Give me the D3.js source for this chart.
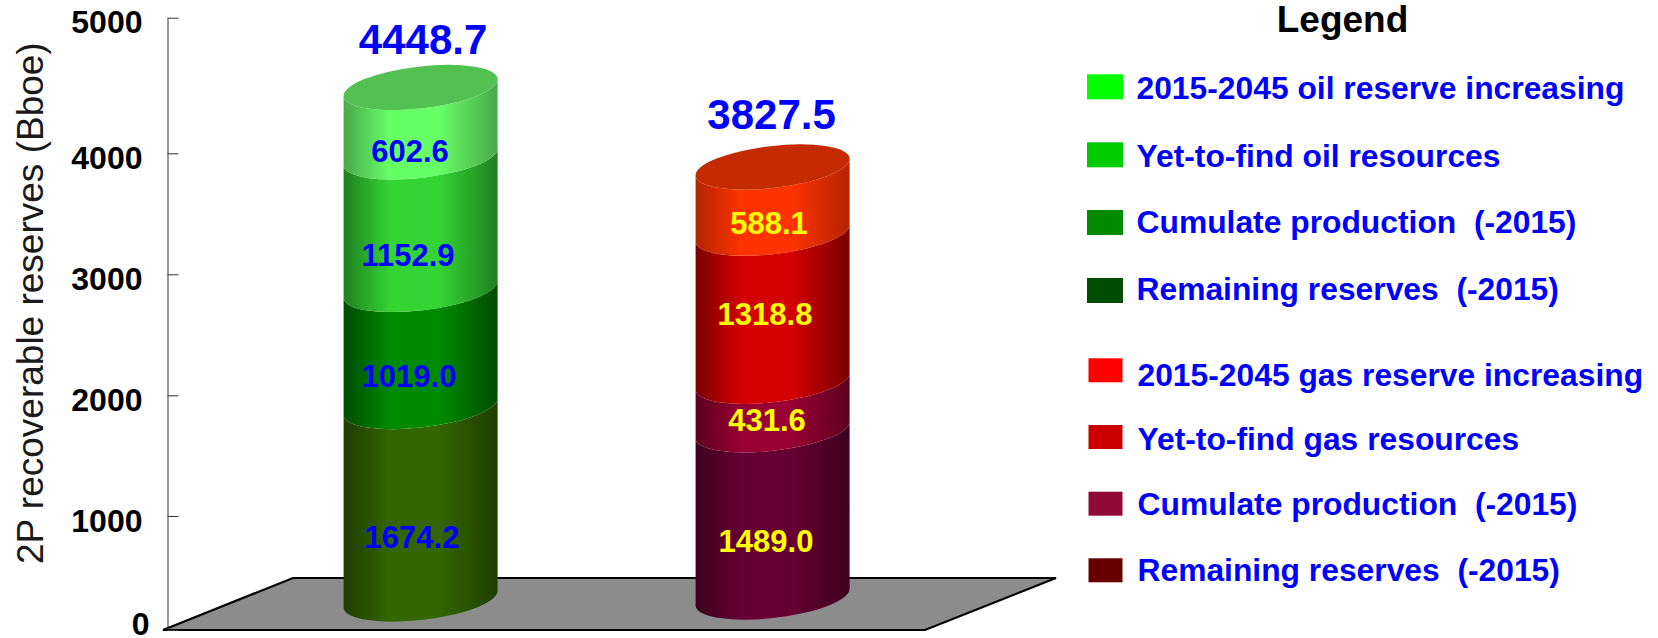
<!DOCTYPE html>
<html>
<head>
<meta charset="utf-8">
<script src="https://cdn.jsdelivr.net/npm/d3@7"></script>
<style>
html, body { margin: 0; background: #fff; }
svg { display: block; }
text { font-family: "Liberation Sans", Arial, sans-serif; white-space: pre; }
</style>
</head>
<body>
<div id="chart"></div>
<script>
// data
var categories = ["Oil", "Gas"];
var oilValues = [1674.2, 1019.0, 1152.9, 602.6];   // bottom to top
var gasValues = [1489.0, 431.6, 1318.8, 588.1];
var oilTotal = 4448.7;
var gasTotal = 3827.5;
var yTicks = [0, 1000, 2000, 3000, 4000, 5000];
var oilLegend = ["2015-2045 oil reserve increasing", "Yet-to-find oil resources", "Cumulate production  (-2015)", "Remaining reserves  (-2015)"];
var gasLegend = ["2015-2045 gas reserve increasing", "Yet-to-find gas resources", "Cumulate production  (-2015)", "Remaining reserves  (-2015)"];

// colours, bottom to top
var oilMid = ["#336600", "#008a00", "#33d433", "#66ff66"];
var oilEdge = ["#1f3d00", "#004c00", "#1f801f", "#4aa84a"];
var gasMid = ["#660033", "#990033", "#d40000", "#ff3300"];
var gasEdge = ["#3d001f", "#5c001f", "#7a0000", "#b32400"];
var capColors = ["#52c152", "#c42b00"];
var oilSwatches = ["#00ff00", "#00cc00", "#008a00", "#004c00"];
var gasSwatches = ["#ff0000", "#cc0000", "#8f0a36", "#660000"];

// hand placed pieces of layout
var yTickPixels = [630, 516, 395.3, 274.3, 153.3, 17.7];  // the axis is not evenly spaced in the picture
var barBase = [599, 597];
var barTop = [87.5, 167];
var totalBaseline = [54, 129];
var labelX = [[412, 409, 408, 410], [766, 767, 765, 769]];
var labelBaseline = [[548, 386.7, 265.6, 162], [551.7, 430.7, 325, 234]];
var labelColors = ["#0000ff", "#ffff00"];

var w = 1658;
var h = 638;

var svg = d3.select("#chart").append("svg")
    .attr("width", w)
    .attr("height", h);
var defs = svg.append("defs");

// floor
svg.append("polygon")
    .attr("points", "163,630 293,578 1056,578 925,630")
    .attr("fill", "#8c8c8c")
    .attr("stroke", "#000")
    .attr("stroke-width", 2.2);

// axis
var y = d3.scaleLinear().domain(yTicks).range(yTickPixels);
var axis = d3.axisLeft(y)
    .tickValues(yTicks)
    .tickSizeInner(-11)
    .tickSizeOuter(0)
    .tickPadding(25)
    .tickFormat(d3.format("d"));

var gAxis = svg.append("g")
    .attr("transform", "translate(167.5,0)")
    .call(axis);
gAxis.select(".domain").attr("stroke", "#333");
gAxis.selectAll(".tick line").attr("stroke", "#333");
gAxis.selectAll(".tick text")
    .attr("font-size", 32)
    .attr("font-weight", "bold")
    .attr("font-family", "Liberation Sans")
    .attr("fill", "#000")
    .attr("dy", function(d) { return d == 0 ? "0.15em" : "0.47em"; })
    .attr("x", function(d) { return d == 0 ? -18 : -25; });

svg.append("text")
    .attr("transform", "translate(43,564) rotate(-90)")
    .attr("font-size", 37)
    .attr("fill", "#1a1a1a")
    .text("2P recoverable reserves (Bboe)");

// cylinders
var x = d3.scaleBand()
    .domain(categories)
    .range([343.6, 849.6])
    .paddingInner(0.5625);

var tilt = 9;
var ry = 21;

function cylinder(i, values, mids, edges, total) {
    var barY = d3.scaleLinear().domain([0, total]).range([barBase[i], barTop[i]]);
    var xL = x(categories[i]);
    var xR = xL + x.bandwidth();
    var rx = Math.hypot(x.bandwidth() / 2, tilt);
    var angle = -Math.atan2(tilt, x.bandwidth() / 2) * 180 / Math.PI;
    var g = svg.append("g");
    var sum = 0;

    values.forEach(function(v, j) {
        var id = "grad" + i + j;
        var grad = defs.append("linearGradient").attr("id", id);
        grad.append("stop").attr("offset", "0").attr("stop-color", edges[j]);
        grad.append("stop").attr("offset", "0.3").attr("stop-color", mids[j]);
        grad.append("stop").attr("offset", "0.62").attr("stop-color", mids[j]);
        grad.append("stop").attr("offset", "1").attr("stop-color", edges[j]);

        var y0 = barY(sum);
        var y1 = barY(sum + v);
        sum += v;

        var arc = "A" + rx + " " + ry + " " + angle + " 0 ";
        g.append("path")
            .attr("fill", "url(#" + id + ")")
            .attr("d", "M" + xL + "," + (y1 + tilt)
                + arc + "0 " + xR + "," + (y1 - tilt)
                + "L" + xR + "," + (y0 - tilt)
                + arc + "1 " + xL + "," + (y0 + tilt) + "Z");
    });

    g.append("ellipse")
        .attr("cx", 0)
        .attr("cy", 0)
        .attr("rx", rx)
        .attr("ry", ry)
        .attr("transform", "translate(" + (xL + xR) / 2 + "," + barY(total) + ") rotate(" + angle + ")")
        .attr("fill", capColors[i]);

    values.forEach(function(v, j) {
        g.append("text")
            .attr("x", labelX[i][j])
            .attr("y", labelBaseline[i][j])
            .attr("text-anchor", "middle")
            .attr("font-size", 31)
            .attr("font-weight", "bold")
            .attr("fill", labelColors[i])
            .text(d3.format(".1f")(v));
    });

    g.append("text")
        .attr("x", (xL + xR) / 2 + (i == 0 ? 2.5 : -1))
        .attr("y", totalBaseline[i])
        .attr("text-anchor", "middle")
        .attr("font-size", 42)
        .attr("font-weight", "bold")
        .attr("fill", "#0000ff")
        .text(d3.format(".1f")(total));
}

cylinder(0, oilValues, oilMid, oilEdge, oilTotal);
cylinder(1, gasValues, gasMid, gasEdge, gasTotal);

// legend
svg.append("text")
    .attr("x", 1342.5)
    .attr("y", 32.3)
    .attr("text-anchor", "middle")
    .attr("font-size", 37)
    .attr("font-weight", "bold")
    .attr("fill", "#000")
    .text("Legend");

function legend(names, colors, swatchX, swatchW, swatchY, swatchH, textX, baseline) {
    names.forEach(function(name, i) {
        svg.append("rect")
            .attr("x", swatchX)
            .attr("y", swatchY[i])
            .attr("width", swatchW)
            .attr("height", swatchH)
            .attr("fill", colors[i]);
        svg.append("text")
            .attr("x", textX)
            .attr("y", baseline[i])
            .attr("font-size", 31.8)
            .attr("font-weight", "bold")
            .attr("fill", "#0000ff")
            .text(name);
    });
}

legend(oilLegend, oilSwatches, 1087, 36, [74.3, 142.3, 210, 278], 25, 1136.5, [99.3, 166.7, 233, 300]);
legend(gasLegend, gasSwatches, 1088.5, 34, [358.3, 425, 491.7, 558.3], 24, 1137.5, [385.7, 450, 515, 580.7]);
</script>
</body>
</html>
